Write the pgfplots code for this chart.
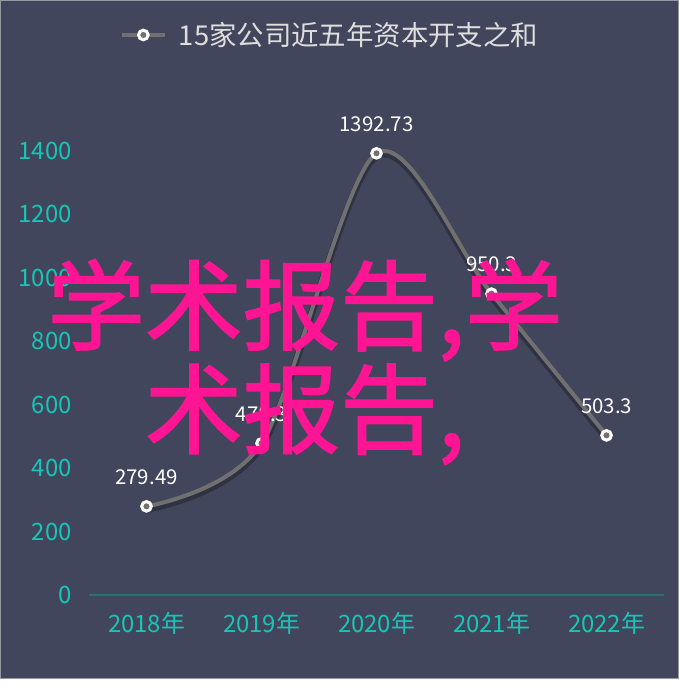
\documentclass[border=0pt]{standalone}
\usepackage{fontspec}
\setmainfont{Noto Sans CJK SC}
\newfontfamily\wmfont{Noto Sans CJK SC}[FakeBold=1.6]
\usepackage{pgfplots}
\pgfplotsset{compat=1.18}
\usepackage{pgfplotstable}

\definecolor{bgcol}{RGB}{66,70,92}
\definecolor{framecol}{RGB}{150,152,160}
\definecolor{tickcol}{RGB}{22,198,182}
\definecolor{axiscol}{RGB}{38,112,118}
\definecolor{linegray}{RGB}{112,112,112}
\definecolor{titlecol}{RGB}{222,222,222}
\definecolor{wmpink}{RGB}{255,20,147}

% capital expenditure, 15 companies
\pgfplotstableread{
x   y        lab
0   279.49   279.49
1   478.3    478.3
2   1392.73  1392.73
3   950.3    950.3
4   503.3    503.3
}\capex

\begin{document}
\begin{tikzpicture}[x=1bp,y=1bp]
\fill[white] (0,0) rectangle (679,693);
\fill[bgcol] (0,14) rectangle (679,693);
\draw[framecol, line width=1bp] (0.5,14.5) rectangle (678.5,692.5);

\begin{axis}[
    at={(89bp,98bp)}, anchor=south west,
    scale only axis,
    width=575bp, height=507.4bp,
    xmin=-0.5, xmax=4.5,
    ymin=0, ymax=1600,
    xtick=data,
    xticklabels={2018年,2019年,2020年,2021年,2022年},
    ytick={0,200,...,1400},
    axis line style={draw=none},
    major tick length=0pt,
    /pgf/number format/assume math mode=true,
    /pgf/number format/1000 sep={},
    tick label style={text=tickcol, font=\fontsize{24}{24}\selectfont, inner sep=0pt},
    yticklabel style={anchor=east, xshift=-17bp},
    xticklabel style={anchor=north, yshift=-17bp},
    clip=false,
    legend style={at={(0.419,1.1037)}, anchor=center, draw=none, fill=none,
        text=titlecol, font=\fontsize{27.5}{27.5}\selectfont,
        inner sep=0pt, column sep=10bp},
    legend image code/.code={
        \draw[linegray, line width=4bp] (0bp,0bp) -- (43bp,0bp);
        \draw[fill=linegray, draw=white, line width=3bp] (21.5bp,0bp) circle (4.8bp);
    },
]
\draw[axiscol, line width=1.5bp] (axis cs:-0.5,0) -- (axis cs:4.5,0);

% soft shadow under the line
\addplot[smooth, draw=black, draw opacity=0.28, line width=7bp, yshift=-3bp, forget plot]
    table[x=x, y=y] {\capex};

\addplot[smooth, draw=linegray, line width=4bp,
    mark=*, mark size=4.8bp,
    mark options={fill=linegray, draw=white, line width=3bp},
    point meta=explicit symbolic,
    nodes near coords,
    nodes near coords style={text=white, font=\fontsize{20.5}{20.5}\selectfont,
        anchor=center, yshift=29bp, inner sep=0pt},
] table[x=x, y=y, meta=lab] {\capex};
\addlegendentry{15家公司近五年资本开支之和}
\end{axis}

\node[text=wmpink, font=\wmfont\fontsize{98}{104}\selectfont, align=center, inner sep=0pt]
    at (305,331) {学术报告,学\\术报告,};

\pgfresetboundingbox
\useasboundingbox (0,0) rectangle (679,693);
\end{tikzpicture}
\end{document}
